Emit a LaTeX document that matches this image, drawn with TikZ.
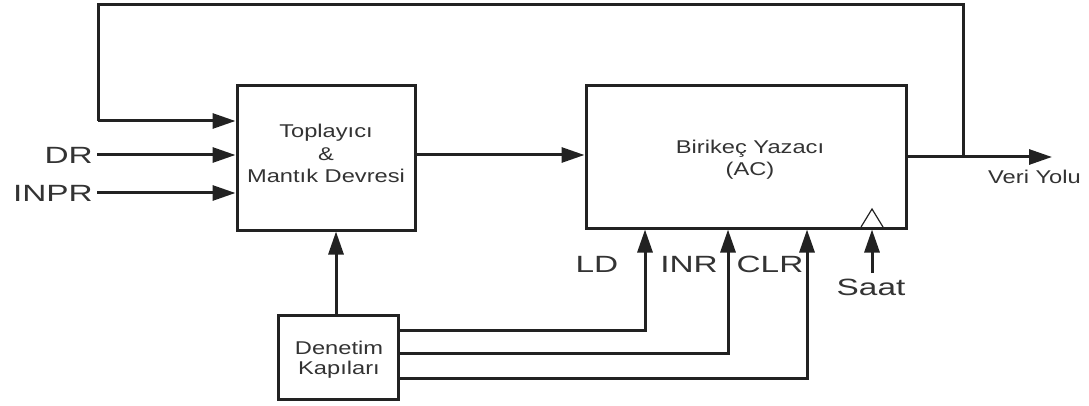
\documentclass[tikz,border=0pt]{standalone}
\usepackage{fontspec}
\setmainfont{Liberation Sans}
\newfontfamily\bigf[FakeStretch=1.42]{Liberation Sans}
\newfontfamily\smallf[FakeStretch=1.28]{Liberation Sans}
\usetikzlibrary{arrows.meta}
\definecolor{ln}{HTML}{222222}
\definecolor{tx}{HTML}{333333}
\begin{document}
\begin{tikzpicture}[x=1pt,y=-1pt,
  blk/.style={draw=ln,line width=3pt,minimum width=#1,inner sep=0pt},
  wire/.style={draw=ln,line width=3pt},
  arr/.style={wire,-{Triangle[length=23pt,width=15pt]}},
  bigtxt/.style={text=tx,font=\bigf\fontsize{23.5}{27}\selectfont,inner sep=0pt,anchor=base},
  smalltxt/.style={text=tx,font=\smallf\fontsize{18.5}{22}\selectfont,inner sep=0pt,anchor=base}]
\useasboundingbox (0,0) rectangle (1089,406);
% boxes
\node[blk=178pt,minimum height=144pt] (add) at (326,158) {};
\node[blk=320pt,minimum height=142pt] (ac) at (746,157) {};
\node[blk=120pt,minimum height=84pt] (den) at (338,357) {};
% texts in boxes
\node[smalltxt] (t1) at (326,138) {Toplayıcı};
\node[smalltxt] (t2) at (326,160.5) {\&};
\node[smalltxt] (t3) at (326,183) {Mantık Devresi};
\node[smalltxt] (t4) at (750,154) {Birikeç Yazacı};
\node[smalltxt] (t5) at (750,176) {(AC)};
\node[smalltxt] (t6) at (339,354) {Denetim};
\node[smalltxt] (t7) at (339,374) {Kapıları};
% labels
\node[bigtxt,anchor=base east] (dr) at (93,163.5) {DR};
\node[bigtxt,anchor=base east] (inpr) at (93,201) {INPR};
\node[bigtxt] (ld) at (597,272) {LD};
\node[bigtxt] (inr) at (689,272) {INR};
\node[bigtxt] (clr) at (770,272) {CLR};
\node[bigtxt] (saat) at (871,295) {Saat};
\node[smalltxt,anchor=base west] (veri) at (988,184) {Veri Yolu};
% coordinates
\coordinate (drs) at (97,155);
\coordinate (inps) at (97,193);
\coordinate (fbl) at (98,121);
\coordinate (jn) at (963,157);
\coordinate (out) at (1052,157);
\coordinate (ldx) at (645,0);
\coordinate (inrx) at (728,0);
\coordinate (clrx) at (807,0);
\coordinate (clk) at (872,273);
\coordinate (top) at (0,5);
\coordinate (y1) at (0,330);
\coordinate (y2) at (0,353);
\coordinate (y3) at (0,378);
% inputs
\draw[arr] (drs) -- (drs -| add.west);
\draw[arr] (inps) -- (inps -| add.west);
% feedback
\draw[arr] (ac.east |- jn) -- (out);
\draw[wire,line join=miter] (jn) -- (jn |- top) -- (fbl |- top) -- (fbl);
\draw[arr] (fbl) -- (fbl -| add.west);
% adder to AC
\draw[arr] (add.east |- drs) -- (ac.west |- drs);
% control to adder
\draw[arr] (den.north -| 336,0) -- (add.south -| 336,0);
% control lines
\draw[arr,line join=miter] (den.east |- y1) -- (ldx |- y1) -- (ldx |- ac.south);
\draw[arr,line join=miter] (den.east |- y2) -- (inrx |- y2) -- (inrx |- ac.south);
\draw[arr,line join=miter] (den.east |- y3) -- (clrx |- y3) -- (clrx |- ac.south);
% clock
\draw[arr] (clk) -- (clk |- ac.south);
\draw[draw=ln,line width=1.2pt] (861,227) -- (872,209) -- (883,227);
\end{tikzpicture}
\end{document}
